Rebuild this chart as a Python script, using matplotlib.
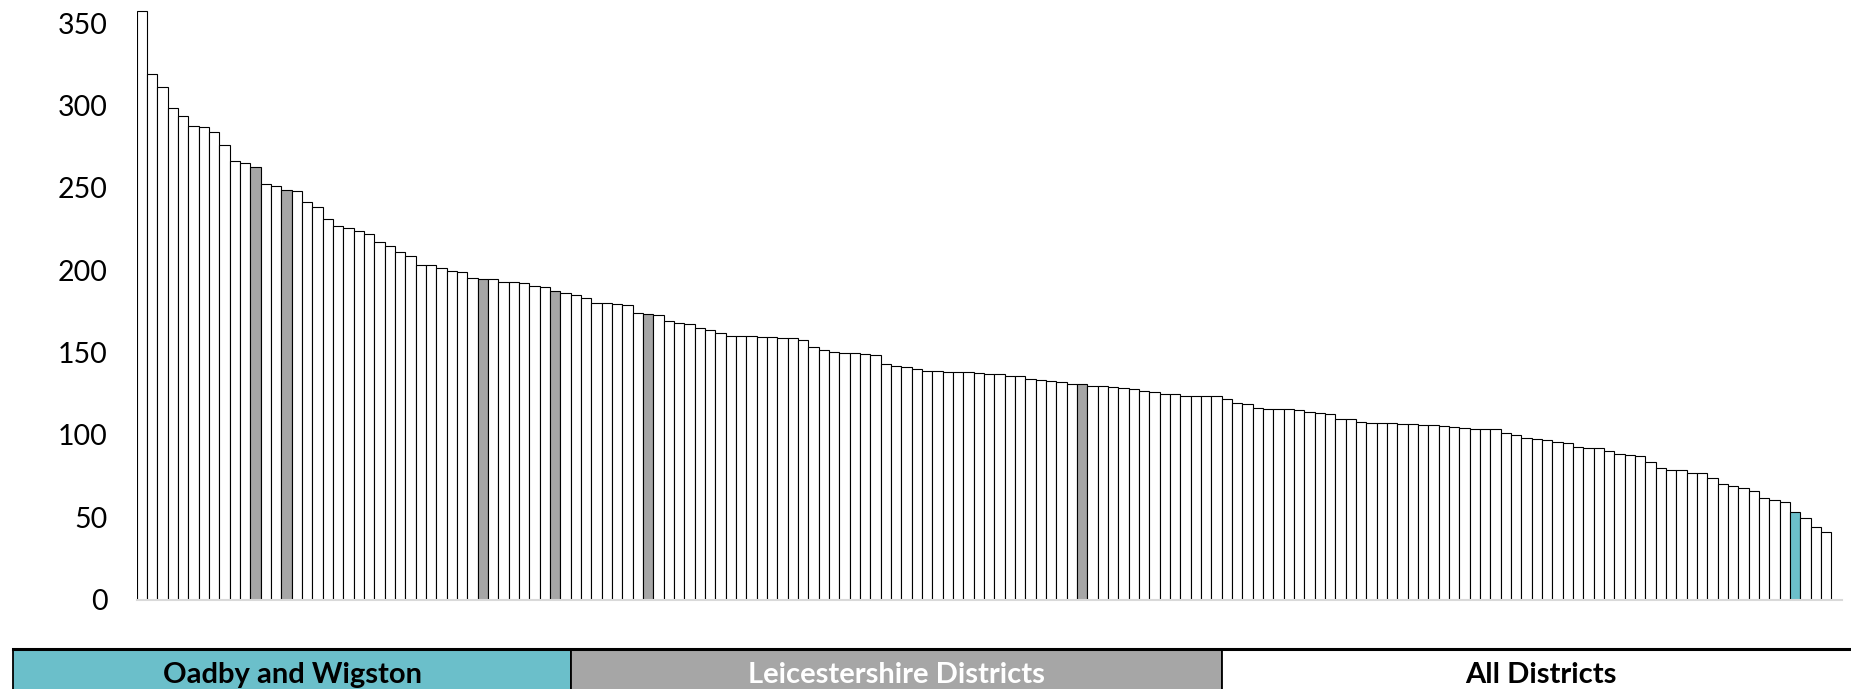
import matplotlib
matplotlib.use("Agg")
import matplotlib.pyplot as plt
from matplotlib.patches import Rectangle

plt.rcParams['font.family'] = ['Lato', 'DejaVu Sans']

# Values for all districts, sorted descending (rank order)
values = [357.1, 319.1, 310.9, 298.7, 293.3, 287.6, 287.0, 283.6, 275.8, 266.1,
          264.9, 262.3, 252.1, 251.1, 248.5, 248.1, 241.4, 238.6, 230.9, 226.9,
          225.5, 223.5, 221.7, 217.2, 214.6, 210.8, 208.6, 203.1, 203.1, 201.5,
          199.5, 198.9, 195.4, 194.7, 194.7, 192.9, 192.9, 192.2, 190.6, 189.5,
          187.5, 186.1, 185.1, 183.1, 180.2, 180.0, 179.6, 179.0, 173.8, 173.3,
          173.0, 169.3, 167.9, 167.3, 164.8, 163.6, 162.0, 160.2, 160.0, 160.0,
          159.6, 159.1, 159.0, 159.0, 157.4, 153.1, 151.7, 150.2, 149.9, 149.9,
          149.3, 148.2, 142.8, 141.8, 141.2, 140.2, 138.7, 138.7, 138.3, 138.1,
          138.1, 137.3, 136.9, 136.7, 135.9, 135.5, 133.8, 133.2, 132.6, 132.0,
          131.0, 130.6, 129.8, 129.4, 129.0, 128.4, 127.8, 126.8, 126.0, 124.7,
          124.5, 123.5, 123.5, 123.3, 123.3, 121.7, 119.3, 118.9, 116.5, 115.9,
          115.4, 115.4, 114.8, 113.8, 113.2, 112.6, 109.8, 109.4, 107.5, 107.1,
          106.9, 106.9, 106.7, 106.5, 105.9, 105.9, 105.5, 104.5, 103.9, 103.7,
          103.7, 103.5, 100.9, 99.6, 97.8, 97.4, 97.0, 95.8, 94.8, 92.3,
          92.2, 91.9, 90.1, 88.5, 87.9, 87.1, 83.7, 79.6, 78.6, 78.6,
          77.0, 77.0, 73.5, 70.0, 68.8, 68.0, 65.6, 61.5, 60.6, 59.5,
          53.3, 49.6, 44.2, 41.1]

# 1-based ranks of highlighted districts
leics_ranks = [12, 15, 34, 41, 50, 92]
oadby_ranks = [161]

legend_labels = ["Oadby and Wigston", "Leicestershire Districts", "All Districts"]
yticks = [0, 50, 100, 150, 200, 250, 300, 350]

C_OADBY = "#6BBFCA"
C_LEICS = "#A6A6A6"
C_ALL = "#FFFFFF"

colors = []
for i in range(1, len(values) + 1):
    if i in oadby_ranks:
        colors.append(C_OADBY)
    elif i in leics_ranks:
        colors.append(C_LEICS)
    else:
        colors.append(C_ALL)

W, H = 1851, 689
fig = plt.figure(figsize=(W / 100, H / 100), dpi=100)

ax_left = 136.7 / W
ax_right = 1841.7 / W
ax_bottom = (H - 599.5) / H
ax = fig.add_axes([ax_left, ax_bottom, ax_right - ax_left, 1.0 - ax_bottom])

x = list(range(len(values)))
ax.bar(x, values, width=1.0, color=colors, edgecolor="black", linewidth=0.8)
ax.set_xlim(-0.5, len(values) + 0.5)
ax.set_ylim(0, 599.5 / 1.647)
ax.set_yticks(yticks)
ax.set_yticklabels([str(t) for t in yticks])
ax.set_xticks([])
for s in ["top", "right", "left"]:
    ax.spines[s].set_visible(False)
ax.spines["bottom"].set_color("#D9D9D9")
ax.spines["bottom"].set_linewidth(1.5)
ax.tick_params(axis="y", length=0, pad=21, labelsize=20.5, labelcolor="black")

# Legend table at bottom
box_top = (H - 648.5) / H
edges = [13, 571, 1222, 1860]
fills = [C_OADBY, C_LEICS, C_ALL]
text_colors = ["black", "white", "black"]
for k in range(3):
    x0 = edges[k] / W
    x1 = edges[k + 1] / W
    fig.add_artist(Rectangle((x0, -0.05), x1 - x0, box_top + 0.05,
                             transform=fig.transFigure, facecolor=fills[k],
                             edgecolor="black", linewidth=1.3, clip_on=False))
    fig.text((x0 + x1) / 2, (H - 675) / H, legend_labels[k], ha="center", va="center",
             fontsize=21, fontweight="bold", color=text_colors[k])
# thicker top line
fig.add_artist(plt.Line2D([13 / W, 1.0], [box_top, box_top], transform=fig.transFigure,
                          color="black", linewidth=2.2))

fig.savefig("out.png", dpi=100)
